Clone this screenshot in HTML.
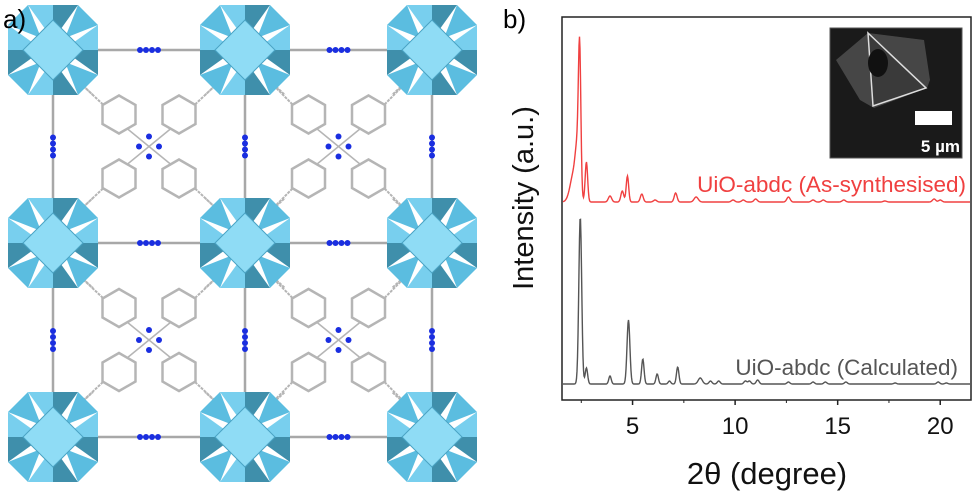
<!DOCTYPE html>
<html><head><meta charset="utf-8"><style>
html,body{margin:0;padding:0;background:#fff;}
body{width:975px;height:491px;overflow:hidden;font-family:"Liberation Sans",sans-serif;}
svg{position:absolute;left:0;top:0;}
</style></head><body>
<svg id="fig" width="975" height="491" viewBox="0 0 975 491">
  <g id="left"></g>
  <text x="3" y="28" font-size="26" fill="#000">a)</text>
  <text x="503" y="28" font-size="26" fill="#000">b)</text>
  <g id="chart"></g>
</svg>
<script>
// ---------- chart data ----------
const xTicks = [5, 10, 15, 20];
const redPeakPos = [2.15, 2.3, 2.42, 2.75, 3.9, 4.5, 4.75, 5.45, 6.1, 7.1, 8.1, 9.9, 10.4, 11.0, 12.6, 13.8, 14.3, 15.3, 17.3, 19.7, 20.0];
const redPeakInt = [30, 35, 140, 40, 6, 11, 26, 8, 2, 9, 5, 2, 2, 3, 5, 2, 2, 2, 1, 3, 2];
const redPeakWid = [0.18, 0.09, 0.06, 0.06, 0.08, 0.07, 0.06, 0.07, 0.08, 0.07, 0.1, 0.08, 0.08, 0.08, 0.08, 0.08, 0.08, 0.08, 0.08, 0.08, 0.08];
const blkPeakPos = [2.45, 2.75, 3.9, 4.8, 5.5, 6.2, 6.8, 7.2, 8.3, 8.8, 9.2, 10.5, 10.7, 11.1, 12.6, 13.8, 14.4, 15.4, 17.8, 19.9, 20.3];
const blkPeakInt = [167, 16, 8, 64, 25, 10, 3, 17, 6, 3, 3, 3, 3, 4, 2, 2, 2, 2, 1, 2, 1];
const blkPeakWid = [0.07, 0.06, 0.06, 0.07, 0.06, 0.06, 0.06, 0.06, 0.1, 0.07, 0.07, 0.07, 0.07, 0.07, 0.07, 0.07, 0.07, 0.07, 0.07, 0.07, 0.07];
const seriesLabels = ["UiO-abdc (As-synthesised)", "UiO-abdc (Calculated)"];

const NS = "http://www.w3.org/2000/svg";
function mk(tag, attrs, parent) {
  const e = document.createElementNS(NS, tag);
  for (const k in attrs) e.setAttribute(k, attrs[k]);
  parent.appendChild(e);
  return e;
}
const chart = document.getElementById('chart');
const X0 = 562, X1 = 971, Y0 = 17, Y1 = 400;
const xMin = 1.56, xMax = 21.5;
function xs(v) { return X0 + (v - xMin) / (xMax - xMin) * (X1 - X0); }
const redBase = 202, blkBase = 384;
function ys(base, v) { return base - v; }

const frame = mk('rect', {x: X0, y: Y0, width: X1 - X0, height: Y1 - Y0, fill: 'none', stroke: '#222', 'stroke-width': 1.5}, chart);



for (const t of xTicks) {
  const tk = mk('line', {x1: xs(t), x2: xs(t), y1: Y1, y2: Y1 + 5, stroke: '#222', 'stroke-width': 1.5}, chart);
  
  
  const tl = mk('text', {x: xs(t), y: 434, 'font-size': 24, 'text-anchor': 'middle', fill: '#111'}, chart);
  tl.textContent = t;
  
  
}
for (let t = 2.5; t < 21; t += 5) {
  const tk = mk('line', {x1: xs(t), x2: xs(t), y1: Y1, y2: Y1 + 3, stroke: '#222', 'stroke-width': 1}, chart);
  
  
}

function profile(pos, ints, wids, base) {
  let d = '';
  for (let px = X0 + 1; px <= X1 - 1; px += 0.5) {
    const v = xMin + (px - X0) / (X1 - X0) * (xMax - xMin);
    let s = 0;
    for (let i = 0; i < pos.length; i++) {
      const z = (v - pos[i]) / wids[i];
      s += ints[i] * Math.exp(-0.5 * z * z);
    }
    d += (d ? 'L' : 'M') + px.toFixed(1) + ',' + ys(base, s).toFixed(1);
  }
  return d;
}
const red = mk('path', {d: profile(redPeakPos, redPeakInt, redPeakWid, redBase), fill: 'none', stroke: '#f04040', 'stroke-width': 1.4}, chart);


const blk = mk('path', {d: profile(blkPeakPos, blkPeakInt, blkPeakWid, blkBase), fill: 'none', stroke: '#555', 'stroke-width': 1.4}, chart);



const l1 = mk('text', {x: 966, y: 192, 'font-size': 22.5, 'text-anchor': 'end', fill: '#f04040'}, chart);
l1.textContent = seriesLabels[0];


const l2 = mk('text', {x: 958, y: 375, 'font-size': 22.5, 'text-anchor': 'end', fill: '#555'}, chart);
l2.textContent = seriesLabels[1];



const xt = mk('text', {x: 767, y: 484, 'font-size': 31, 'text-anchor': 'middle', fill: '#111'}, chart);
xt.textContent = '2θ (degree)';


const yt = mk('text', {x: 0, y: 0, 'font-size': 29, 'text-anchor': 'middle', fill: '#111', transform: 'translate(533,198) rotate(-90)'}, chart);
yt.textContent = 'Intensity (a.u.)';



// inset SEM image
const inset = mk('g', {}, chart);


mk('rect', {x: 830, y: 28, width: 132, height: 130, fill: '#1a1a1a', stroke: '#555'}, inset);
mk('polygon', {points: '836,60 868,33 924,40 930,80 927,88 874,108 860,100', fill: '#5a5a5a', opacity: 0.7}, inset);
mk('polygon', {points: '868,33 926,88 873,106', fill: '#3a3a3a', stroke: '#ddd', 'stroke-width': 1.5}, inset);
mk('ellipse', {cx: 878, cy: 63, rx: 10, ry: 14, fill: '#111'}, inset);
mk('rect', {x: 915, y: 111, width: 37, height: 14, fill: '#fff'}, inset);
const sb = mk('text', {x: 960, y: 152, 'font-size': 17, 'font-weight': 'bold', 'text-anchor': 'end', fill: '#fff'}, inset);
sb.textContent = '5 µm';



// ---------- crystal structure ----------
const left = document.getElementById('left');
const nodesX = [53, 245, 432], nodesY = [50, 243, 437];
for (let i = 0; i < 3; i++) for (let j = 0; j < 3; j++) {
  if (i < 2) {
    const ln = mk('line', {x1: nodesX[i], y1: nodesY[j], x2: nodesX[i + 1], y2: nodesY[j], stroke: '#a8a8a8', 'stroke-width': 2.5}, left);
    
    
    const mx = (nodesX[i] + nodesX[i + 1]) / 2;
    for (const dx of [-8, -2, 4, 10]) mk('circle', {cx: mx + dx - 1, cy: nodesY[j], r: 3, fill: '#1a2ee0'}, left);
  }
  if (j < 2) {
    const ln = mk('line', {x1: nodesX[i], y1: nodesY[j], x2: nodesX[i], y2: nodesY[j + 1], stroke: '#a8a8a8', 'stroke-width': 2.5}, left);
    
    
    const my = (nodesY[j] + nodesY[j + 1]) / 2;
    for (const dy of [-8, -2, 4, 10]) mk('circle', {cx: nodesX[i], cy: my + dy - 1, r: 3, fill: '#1a2ee0'}, left);
  }
}
function hex(cx, cy, r, parent) {
  let p = '';
  for (let k = 0; k < 6; k++) {
    const a = Math.PI / 6 + k * Math.PI / 3;
    p += (cx + r * Math.cos(a)).toFixed(1) + ',' + (cy + r * Math.sin(a)).toFixed(1) + ' ';
  }
  mk('polygon', {points: p, fill: 'none', stroke: '#b5b5b5', 'stroke-width': 2.5}, parent);
}
for (let i = 0; i < 2; i++) for (let j = 0; j < 2; j++) {
  const cell = mk('g', {}, left);
  
  
  const cx = (nodesX[i] + nodesX[i + 1]) / 2, cy = (nodesY[j] + nodesY[j + 1]) / 2;
  for (const sx of [-1, 1]) for (const sy of [-1, 1]) {
    const hx = cx + sx * 30, hy = cy + sy * 32;
    hex(hx, hy, 19, cell);
    const nx = sx < 0 ? nodesX[i] : nodesX[i + 1], ny = sy < 0 ? nodesY[j] : nodesY[j + 1];
    mk('polyline', {points: `${hx + sx * 16},${hy + sy * 10} ${nx - sx * 18},${hy + sy * 40} ${nx - sx * 40},${ny - sy * 45}`, fill: 'none', stroke: '#b5b5b5', 'stroke-width': 2, 'stroke-dasharray': '3,1'}, cell);
    mk('line', {x1: cx, y1: cy, x2: hx - sx * 8, y2: hy - sy * 14, stroke: '#b5b5b5', 'stroke-width': 1.5}, cell);
  }
  for (const [dx, dy] of [[0, -10], [0, 10], [-10, 0], [10, 0]]) mk('circle', {cx: cx + dx, cy: cy + dy, r: 3, fill: '#1a2ee0'}, cell);
}
for (let i = 0; i < 3; i++) for (let j = 0; j < 3; j++) {
  const g = mk('g', {transform: `translate(${nodesX[i]},${nodesY[j]})`}, left);
  
  
  const tris = [
    ['-25,-45 0,-45 0,-10', '#78cfee'], ['0,-45 25,-45 0,-10', '#3f8fab'],
    ['45,-25 45,0 10,0', '#78cfee'], ['45,0 45,25 10,0', '#3f8fab'],
    ['25,45 0,45 0,10', '#3f8fab'], ['0,45 -25,45 0,10', '#78cfee'],
    ['-45,25 -45,0 -10,0', '#3f8fab'], ['-45,0 -45,-25 -10,0', '#78cfee'],
    ['-45,-25 -25,-45 -12,-12', '#5bbde0'], ['25,-45 45,-25 12,-12', '#5bbde0'],
    ['45,25 25,45 12,12', '#5bbde0'], ['-25,45 -45,25 -12,12', '#5bbde0']
  ];
  for (const [p, c] of tris) mk('polygon', {points: p, fill: c}, g);
  mk('polygon', {points: '0,-30 30,0 0,30 -30,0', fill: '#8fdcf5', stroke: '#4aa3c4', 'stroke-width': 1}, g);
}
</script>
</body></html>
